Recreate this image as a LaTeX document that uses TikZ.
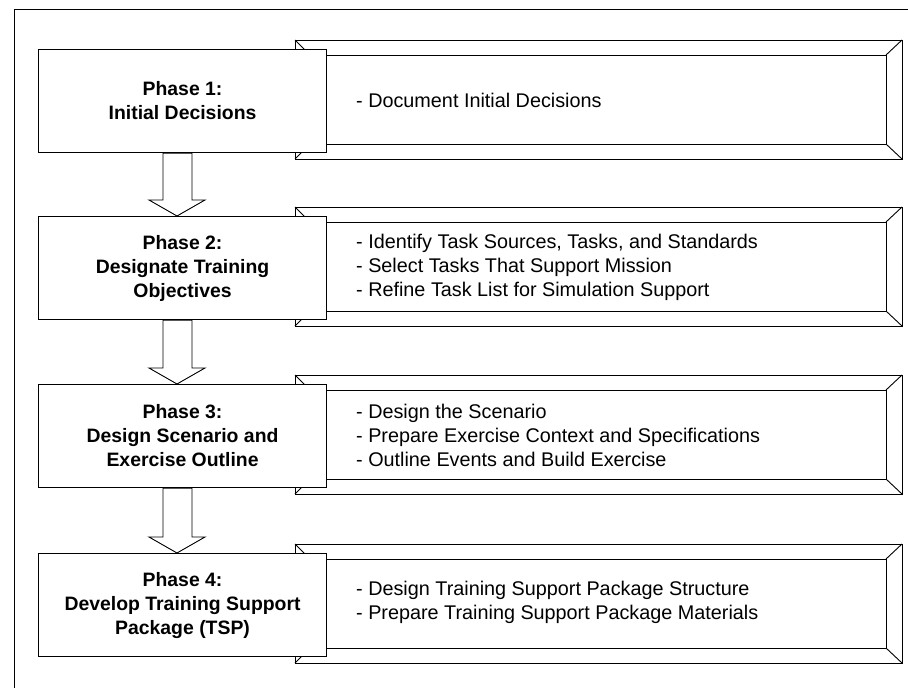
\documentclass[tikz,border=0pt]{standalone}
\usepackage{fontspec}
\setmainfont{Liberation Sans}
\usetikzlibrary{calc}
\newcommand\bevelframe[2]{%
  \draw[frameline] (295,#1-9) rectangle (902,#2+7);
  \draw[frameline] (310,#1+6) rectangle (886,#2-8);
  \draw[frameline] (295,#1-9) -- (310,#1+6);
  \draw[frameline] (902,#1-9) -- (886,#1+6);
  \draw[frameline] (295,#2+7) -- (310,#2-8);
  \draw[frameline] (902,#2+7) -- (886,#2-8);
}
\begin{document}
\begin{tikzpicture}[x=1pt,y=-1pt,
  phasebox/.style={draw=black, line width=1.1pt, fill=white, minimum width=288pt, minimum height=103pt, align=center, font=\fontsize{19.4}{24}\selectfont\bfseries, inner sep=0pt, anchor=north west},
  listtext/.style={anchor=west, align=left, font=\fontsize{19.8}{24}\selectfont, inner sep=0pt},
  frameline/.style={draw=black, line width=0.9pt, line join=miter},
  fatarrow/.style={draw=black, line width=0.9pt, fill=white, line join=miter}]
\useasboundingbox (0,0) rectangle (908,688);
\begin{scope}
\clip (0,0) rectangle (908,688);
\draw[line width=0.9pt] (14,9) rectangle (930,710);
\end{scope}

% bevel frames
\bevelframe{49}{152}
\bevelframe{216}{319}
\bevelframe{384}{487}
\bevelframe{553}{656}

% phase boxes
\node[phasebox] (p1) at (38,49) {Phase 1:\\Initial Decisions};
\node[phasebox] (p2) at (38,216) {Phase 2:\\Designate Training\\Objectives};
\node[phasebox] (p3) at (38,384) {Phase 3:\\Design Scenario and\\Exercise Outline};
\node[phasebox] (p4) at (38,553) {Phase 4:\\Develop Training Support\\Package (TSP)};

% frame texts
\node[listtext] (t1) at (356,100) {- Document Initial Decisions};
\node[listtext] (t2) at (356,267) {- Identify Task Sources, Tasks, and Standards\\- Select Tasks That Support Mission\\- Refine Task List for Simulation Support};
\node[listtext] (t3) at (356,435) {- Design the Scenario\\- Prepare Exercise Context and Specifications\\- Outline Events and Build Exercise};
\node[listtext] (t4) at (356,602) {- Design Training Support Package Structure\\- Prepare Training Support Package Materials};

% fat arrows between phases
\foreach \a/\b in {p1/p2,p2/p3,p3/p4}{
  \draw[fatarrow] let \p1=(\a.south), \p2=(\b.north) in
    (163,\y1) -- (192,\y1) -- (192,\y2+16pt) -- (205,\y2+16pt) -- (177,\y2)
    -- (149,\y2+16pt) -- (163,\y2+16pt) -- cycle;
}
\end{tikzpicture}
\end{document}
